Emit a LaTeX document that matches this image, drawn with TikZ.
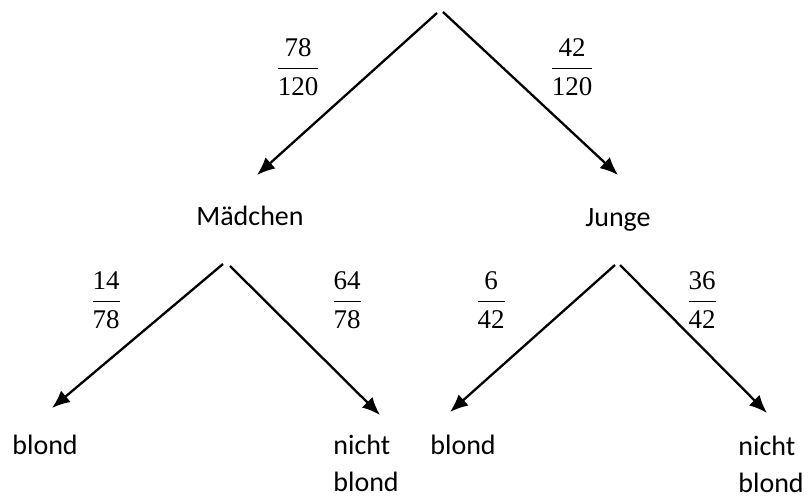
\documentclass[tikz,border=0pt]{standalone}
\usepackage{fontspec}
\setmainfont{Carlito}
\newfontfamily\timesfont{Liberation Serif}
\usepackage{tikz}
\usetikzlibrary{arrows.meta}
\usepackage{tkz-euclide}
\newcommand\bruch[2]{{\timesfont\fontsize{13.5}{16}\selectfont$\displaystyle\frac{\mbox{#1}}{\mbox{#2}}$}}

\begin{document}
\begin{tikzpicture}[x=0.5pt, y=-0.5pt, >={Latex[length=9pt,width=7.5pt]},
  every node/.style={inner sep=0pt, font=\fontsize{14}{18.5}\selectfont},
  ast/.style={->, line width=1.15pt}]
\useasboundingbox (0,0) rectangle (808,497);
\tkzDefPoints{437/13/A, 443/12/B, 257/175/M, 618/175/J}
\tkzDefPoints{223/264/C, 230/266/D, 52/408/E, 380/415/F}
\tkzDefPoints{615/265/G, 620/265/H, 450/412/K, 767/413/L}
\draw[ast] (A) -- (M);
\draw[ast] (B) -- (J);
\draw[ast] (C) -- (E);
\draw[ast] (D) -- (F);
\draw[ast] (G) -- (K);
\draw[ast] (H) -- (L);
\node[anchor=base] (maedchen) at (250,226) {Mädchen};
\node[anchor=base] (junge) at (618,227) {Junge};
\node[anchor=base west] (b1) at (12,454) {blond};
\node[anchor=base west, align=left] (nb1) at (333,491) {nicht\\blond};
\node[anchor=base west] (b2) at (430,454) {blond};
\node[anchor=base west, align=left] (nb2) at (738,492) {nicht\\blond};
% Wahrscheinlichkeiten
\node (p1) at (298,67) {\bruch{78}{120}};
\node (p2) at (572,67) {\bruch{42}{120}};
\node (p3) at (106,300) {\bruch{14}{78}};
\node (p4) at (347,300) {\bruch{64}{78}};
\node (p5) at (491,300) {\bruch{6}{42}};
\node (p6) at (702,300) {\bruch{36}{42}};
\end{tikzpicture}
\end{document}
